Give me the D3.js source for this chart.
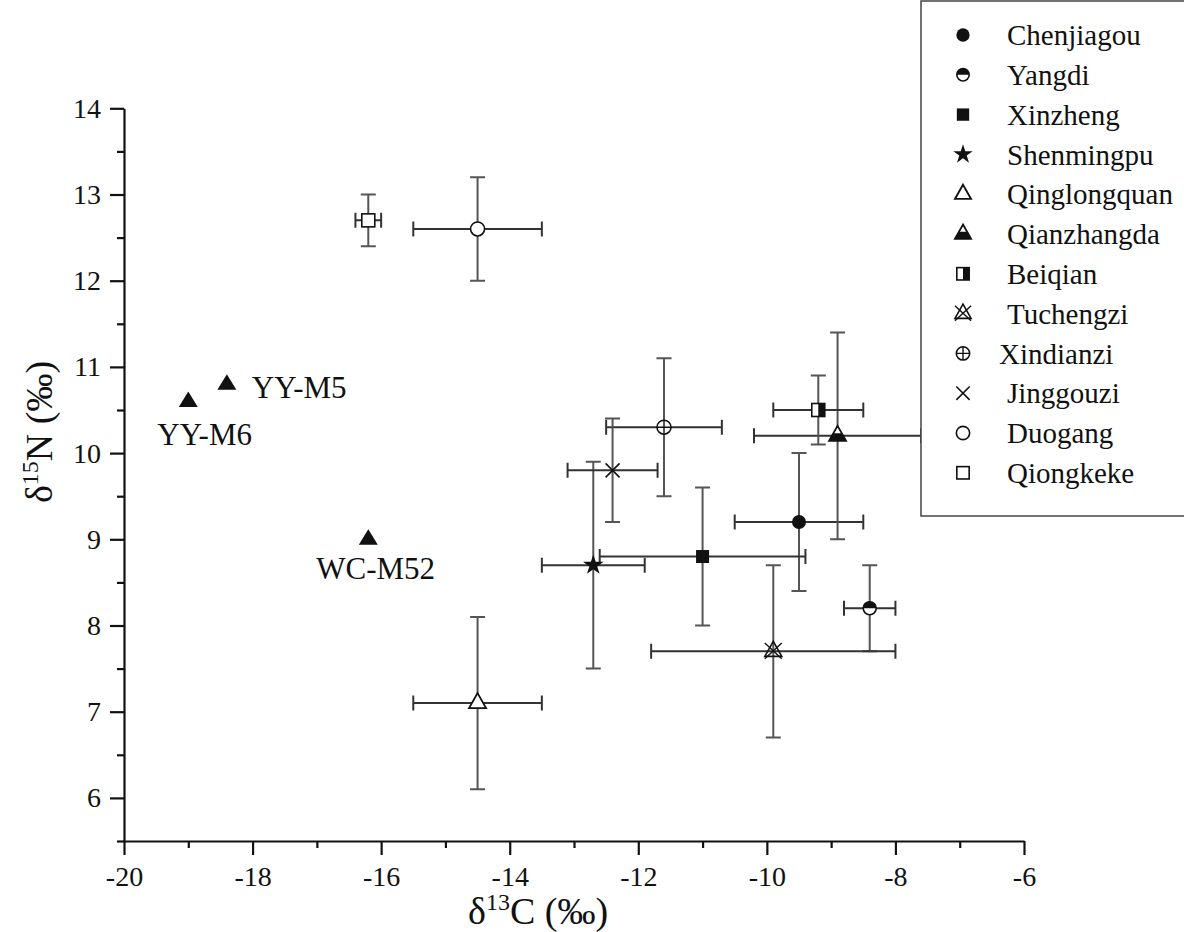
<!DOCTYPE html>
<html>
<head>
<meta charset="utf-8">
<script src="https://cdn.jsdelivr.net/npm/d3@7/dist/d3.min.js"></script>
<style>
  html, body { margin: 0; padding: 0; background: #fff; }
  svg { display: block; }
  text { font-family: "Liberation Serif", "Times New Roman", serif; fill: #111; }
</style>
</head>
<body>
<svg id="chart" width="1184" height="932"></svg>
<script>
// ---------- data ----------
const sites   = ["Chenjiagou","Yangdi","Xinzheng","Shenmingpu","Qinglongquan","Qianzhangda","Beiqian","Tuchengzi","Xindianzi","Jinggouzi","Duogang","Qiongkeke"];
const markers = ["circleFilled","halfCircle","squareFilled","star","triOpen","triHalf","squareHalf","triX","circlePlus","cross","circleOpen","squareOpen"];
const c13Mean = [-9.5, -8.4, -11.0, -12.7, -14.5, -8.9, -9.2, -9.9, -11.6, -12.4, -14.5, -16.2];
const c13SD   = [ 1.0,  0.4,   1.6,   0.8,   1.0,  1.3,  0.7,  1.9,   0.9,   0.7,   1.0,   0.2];
const n15Mean = [ 9.2,  8.2,   8.8,   8.7,   7.1, 10.2, 10.5,  7.7,  10.3,   9.8,  12.6,  12.7];
const n15SD   = [ 0.8,  0.5,   0.8,   1.2,   1.0,  1.2,  0.4,  1.0,   0.8,   0.6,   0.6,   0.3];

const indLabels = ["YY-M5", "YY-M6", "WC-M52"];
const indC13    = [-18.4, -19.0, -16.2];
const indN15    = [ 10.8,  10.6,   9.0];

const xMajor = [-20, -18, -16, -14, -12, -10, -8, -6];
const xMinor = [-19, -17, -15, -13, -11, -9, -7];
const yMajor = [6, 7, 8, 9, 10, 11, 12, 13, 14];
const yMinor = [5.5, 6.5, 7.5, 8.5, 9.5, 10.5, 11.5, 12.5, 13.5];

// ---------- layout ----------
const svg = d3.select("#chart");
const x = d3.scaleLinear().domain([-20, -6]).range([124, 1024]);
const y = d3.scaleLinear().domain([5.5, 14]).range([841, 108.3]);

const FONT = "Liberation Serif, Times New Roman, serif";

// ---------- axes ----------
function styleAxis(g) {
  g.attr("font-family", FONT);
  g.select(".domain").attr("stroke", "#111").attr("stroke-width", 2.2);
  g.selectAll(".tick line").attr("stroke", "#111").attr("stroke-width", 2.2);
  g.selectAll(".tick text").attr("font-size", 28).attr("fill", "#111");
}
const gx = svg.append("g").attr("transform", `translate(0,${y(5.5)})`)
  .call(d3.axisBottom(x).tickValues(xMajor).tickSize(14).tickSizeOuter(0).tickPadding(11).tickFormat(d3.format("d")));
styleAxis(gx);
gx.selectAll(".tick text").text(d => String(d));
const gxm = svg.append("g").attr("transform", `translate(0,${y(5.5)})`)
  .call(d3.axisBottom(x).tickValues(xMinor).tickSize(7).tickSizeOuter(0).tickFormat(""));
styleAxis(gxm); gxm.select(".domain").remove();

const gy = svg.append("g").attr("transform", `translate(${x(-20)},0)`)
  .call(d3.axisLeft(y).tickValues(yMajor).tickSize(14).tickSizeOuter(0).tickPadding(9).tickFormat(d3.format("d")));
styleAxis(gy);
const gym = svg.append("g").attr("transform", `translate(${x(-20)},0)`)
  .call(d3.axisLeft(y).tickValues(yMinor).tickSize(7).tickSizeOuter(0).tickFormat(""));
styleAxis(gym); gym.select(".domain").remove();

// axis titles
const xt = svg.append("text").attr("x", 538).attr("y", 924).attr("text-anchor", "middle")
  .attr("font-size", 38);
xt.append("tspan").text("δ");
xt.append("tspan").attr("font-size", 24).attr("dy", -14).text("13");
xt.append("tspan").attr("dy", 14).text("C (‰)");

const yt = svg.append("text").attr("transform", "translate(52,432) rotate(-90)").attr("text-anchor", "middle")
  .attr("font-size", 38);
yt.append("tspan").text("δ");
yt.append("tspan").attr("font-size", 24).attr("dy", -14).text("15");
yt.append("tspan").attr("dy", 14).text("N (‰)");

// ---------- marker drawing ----------
function drawMarker(g, type, s) {
  const k = s || 1;
  const st = "#111";
  const r = 7 * k, q = 6.5 * k, tw = 17 * k, th = 15 * k;
  const tri = `M0,${-th*2/3}L${tw/2},${th/3}L${-tw/2},${th/3}Z`;
  switch (type) {
    case "circleFilled":
      g.append("circle").attr("r", r).attr("fill", st); break;
    case "halfCircle":
      g.append("circle").attr("r", 6.5*k).attr("fill", "#fff").attr("stroke", st).attr("stroke-width", 1.6);
      g.append("path").attr("d", `M${-6.5*k},0A${6.5*k},${6.5*k} 0 0 1 ${6.5*k},0Z`).attr("fill", st); break;
    case "squareFilled":
      g.append("rect").attr("x", -q).attr("y", -q).attr("width", 2*q).attr("height", 2*q).attr("fill", st); break;
    case "star":
      g.append("path").attr("d", d3.symbol(d3.symbolStar, 130 * k * k)()).attr("fill", st); break;
    case "triOpen":
      g.append("path").attr("d", tri).attr("fill", "#fff").attr("stroke", st).attr("stroke-width", 1.8).attr("stroke-linejoin", "miter"); break;
    case "triHalf":
      g.append("path").attr("d", tri).attr("fill", "#fff").attr("stroke", st).attr("stroke-width", 1.8);
      g.append("path").attr("d", `M${-tw/4},${-th/6}L${tw/4},${-th/6}L${tw/2},${th/3}L${-tw/2},${th/3}Z`).attr("fill", st); break;
    case "squareHalf":
      g.append("rect").attr("x", -q).attr("y", -q).attr("width", 2*q).attr("height", 2*q).attr("fill", "#fff").attr("stroke", st).attr("stroke-width", 1.6);
      g.append("rect").attr("x", 0).attr("y", -q).attr("width", q).attr("height", 2*q).attr("fill", st); break;
    case "triX":
      g.append("path").attr("d", tri).attr("fill", "none").attr("stroke", st).attr("stroke-width", 1.6);
      g.append("path").attr("d", `M${-tw/2},${-th*0.55}L${tw/2},${th*0.5}M${tw/2},${-th*0.55}L${-tw/2},${th*0.5}`).attr("stroke", st).attr("stroke-width", 1.4).attr("fill", "none"); break;
    case "circlePlus":
      g.append("circle").attr("r", r).attr("fill", "#fff").attr("stroke", st).attr("stroke-width", 1.6);
      g.append("path").attr("d", `M${-r},0H${r}M0,${-r}V${r}`).attr("stroke", st).attr("stroke-width", 1.4); break;
    case "cross":
      g.append("path").attr("d", `M${-r},${-r}L${r},${r}M${r},${-r}L${-r},${r}`).attr("stroke", st).attr("stroke-width", 1.6); break;
    case "circleOpen":
      g.append("circle").attr("r", r).attr("fill", "#fff").attr("stroke", st).attr("stroke-width", 1.6); break;
    case "squareOpen":
      g.append("rect").attr("x", -q).attr("y", -q).attr("width", 2*q).attr("height", 2*q).attr("fill", "#fff").attr("stroke", st).attr("stroke-width", 1.6); break;
  }
}

// ---------- error bars ----------
const eb = svg.append("g").attr("stroke", "#333").attr("stroke-width", 2).attr("fill", "none");
const cap = 7.5;
sites.forEach((s, i) => {
  const cx = x(c13Mean[i]), cy = y(n15Mean[i]);
  const x0 = x(c13Mean[i] - c13SD[i]), x1 = x(c13Mean[i] + c13SD[i]);
  const y0 = y(n15Mean[i] - n15SD[i]), y1 = y(n15Mean[i] + n15SD[i]);
  eb.append("path").attr("d", `M${x0},${cy}H${x1}M${x0},${cy-cap}V${cy+cap}M${x1},${cy-cap}V${cy+cap}`);
  eb.append("path").attr("stroke", "#555").attr("d", `M${cx},${y0}V${y1}M${cx-cap},${y0}H${cx+cap}M${cx-cap},${y1}H${cx+cap}`);
});

// ---------- site markers ----------
sites.forEach((s, i) => {
  const g = svg.append("g").attr("transform", `translate(${x(c13Mean[i])},${y(n15Mean[i])})`);
  drawMarker(g, markers[i], 1);
});

// ---------- individual samples ----------
const ind = svg.append("g");
const labelOffsets = [[25, 14], [-31, 44], [-52, 40]];
indLabels.forEach((lab, i) => {
  const px = x(indC13[i]), py = y(indN15[i]);
  ind.append("path").attr("transform", `translate(${px},${py})`)
    .attr("d", `M0,-10L9.5,5.5L-9.5,5.5Z`).attr("fill", "#111");
  ind.append("text").attr("x", px + labelOffsets[i][0]).attr("y", py + labelOffsets[i][1])
    .attr("font-size", 31).text(lab);
});

// ---------- legend ----------
const lg = svg.append("g");
lg.append("rect").attr("x", 921).attr("y", 1).attr("width", 275).attr("height", 515)
  .attr("fill", "#fff").attr("stroke", "#444").attr("stroke-width", 1.5);
sites.forEach((s, i) => {
  const ry = 35 + i * 39.8;
  const g = lg.append("g").attr("transform", `translate(963,${ry})`);
  drawMarker(g, markers[i], 0.95);
  lg.append("text").attr("x", s === "Xindianzi" ? 999 : 1007).attr("y", ry).attr("dy", "0.35em")
    .attr("font-size", 29).text(s);
});
</script>
</body>
</html>
